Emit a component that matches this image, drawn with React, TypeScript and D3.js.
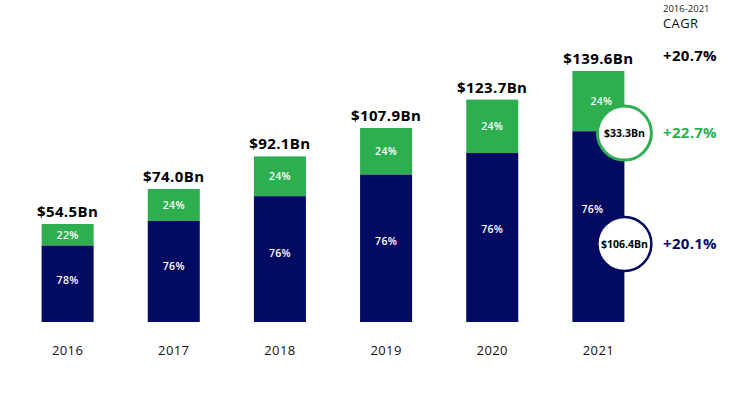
import React from "react";
import * as d3 from "d3";

const years = ["2016", "2017", "2018", "2019", "2020", "2021"];
const totals = [54.5, 74.0, 92.1, 107.9, 123.7, 139.6];
const greenShare = [22, 24, 24, 24, 24, 24];
const blueShare = [78, 76, 76, 76, 76, 76];
const cagrHeader = ["2016-2021", "CAGR"];
const cagrTotal = "+20.7%";
const cagrGreen = "+22.7%";
const cagrBlue = "+20.1%";
const lastGreenValue = "$33.3Bn";
const lastBlueValue = "$106.4Bn";

const NAVY = "#020A62";
const GREEN = "#2DAE4F";
const FONT = "'Open Sans', 'DejaVu Sans', sans-serif";

export default function App() {
  const W = 741, H = 394;
  const x = d3.scaleBand().domain(years).range([14, 652]).paddingInner(0.51).paddingOuter(0.26);
  const y = d3.scaleLinear().domain([0, 139.6]).range([322, 71]);
  const bw = x.bandwidth();
  const lastX = x("2021")! + bw;
  const yGreenMid = y(totals[5]) + (y(totals[5] * blueShare[5] / 100) - y(totals[5])) / 2;
  const yBlueCircle = 244;
  return (
    <svg width={W} height={H} style={{ position: "absolute", left: 0, top: 0, background: "#fff" }} fontFamily={FONT}>
      {years.map((yr, i) => {
        const x0 = x(yr)!;
        const t = totals[i];
        const blueVal = t * blueShare[i] / 100;
        const yTop = y(t);
        const yB = y(blueVal);
        const y0 = y(0);
        const cx = x0 + bw / 2;
        const isLast = i === years.length - 1;
        return (
          <g key={yr}>
            <rect x={x0} y={yTop} width={bw} height={yB - yTop} fill={GREEN} />
            <rect x={x0} y={yB} width={bw} height={y0 - yB} fill={NAVY} />
            <text x={cx} y={yTop - 7} textAnchor="middle" fontSize={15} fontWeight={700} letterSpacing={0.4} fill="#000">
              {`$${t.toFixed(1)}Bn`}
            </text>
            <text x={cx + (isLast ? 3 : 0)} y={(yTop + yB) / 2 + 4} textAnchor="middle" fontSize={10.5} fontWeight={600} letterSpacing={0.3} fill="#fff">
              {greenShare[i]}%
            </text>
            <text x={cx - (isLast ? 6 : 0)} y={yB + (y0 - yB) * (isLast ? 0.41 : 0.45) + 4} textAnchor="middle" fontSize={10.5} fontWeight={600} letterSpacing={0.3} fill="#fff">
              {blueShare[i]}%
            </text>
            <text x={cx} y={355} textAnchor="middle" fontSize={13} letterSpacing={0.4} fill="#111">{yr}</text>
          </g>
        );
      })}
      <circle cx={lastX} cy={yGreenMid + 32} r={27} fill="#fff" stroke={GREEN} strokeWidth={3} />
      <text x={lastX} y={yGreenMid + 35.5} textAnchor="middle" fontSize={10.5} fontWeight={700} fill="#000">{lastGreenValue}</text>
      <circle cx={lastX} cy={yBlueCircle} r={27} fill="#fff" stroke={NAVY} strokeWidth={2.5} />
      <text x={lastX} y={yBlueCircle + 3.5} textAnchor="middle" fontSize={10.5} fontWeight={700} fill="#000">{lastBlueValue}</text>
      <text x={663} y={12} fontSize={9.5} fill="#222">{cagrHeader[0]}</text>
      <text x={663} y={28} fontSize={13} letterSpacing={0.4} fill="#111">{cagrHeader[1]}</text>
      <text x={663} y={61} fontSize={15} fontWeight={700} letterSpacing={0.3} fill="#000">{cagrTotal}</text>
      <text x={663} y={138} fontSize={15} fontWeight={700} letterSpacing={0.3} fill={GREEN}>{cagrGreen}</text>
      <text x={663} y={249} fontSize={15} fontWeight={700} letterSpacing={0.3} fill={NAVY}>{cagrBlue}</text>
    </svg>
  );
}
